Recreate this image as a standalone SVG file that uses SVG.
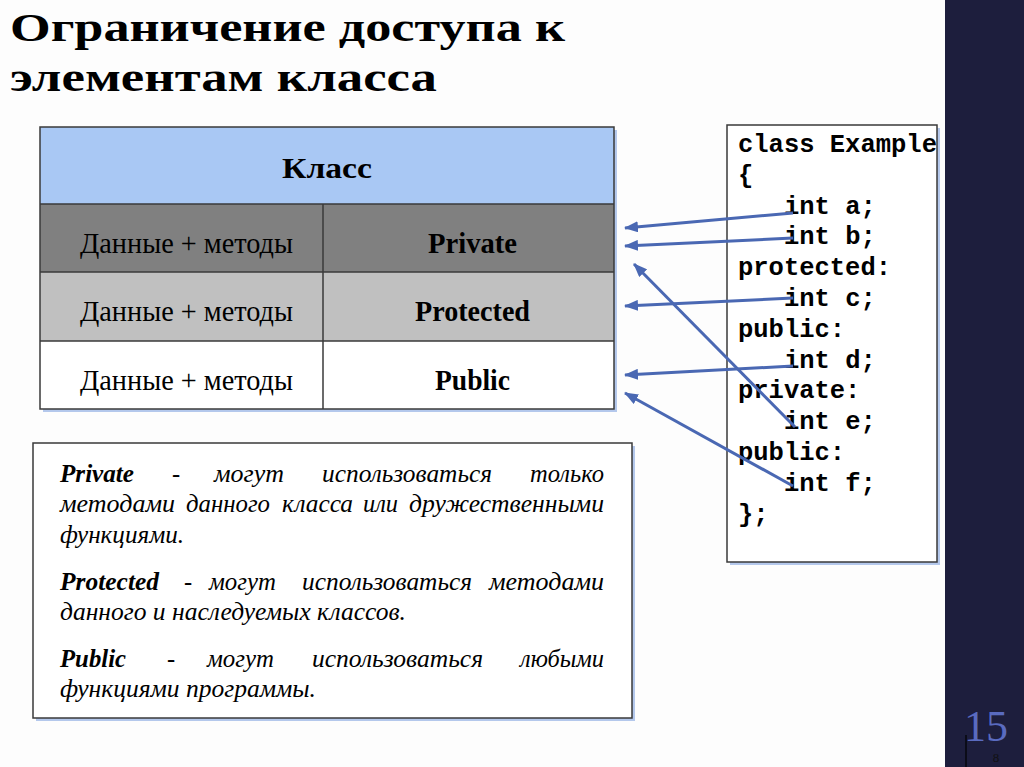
<svg xmlns="http://www.w3.org/2000/svg" width="1024" height="767" viewBox="0 0 1024 767">
<style>
.title{font-family:"Liberation Serif",serif;font-weight:bold;font-size:41px;fill:#000}
.cell{font-family:"Liberation Serif",serif;font-size:29px;fill:#000}
.cellb{font-family:"Liberation Serif",serif;font-size:29px;font-weight:bold;fill:#000}
.code{font-family:"Liberation Mono",monospace;font-weight:bold;font-size:25.5px;fill:#000}
.desc{font-family:"Liberation Serif",serif;font-style:italic;font-size:24.5px;fill:#000}
.descb{font-weight:bold}
.box{stroke:#3a3a3a;stroke-width:1.5}
.shadow{fill:#b4c8ec}
.arrow{stroke:#4a68b3;stroke-width:3;fill:none;marker-end:url(#ah)}
</style>
<defs>
<marker id="ah" markerUnits="userSpaceOnUse" viewBox="0 0 14 11" markerWidth="14" markerHeight="11" refX="13" refY="5.5" orient="auto">
<path d="M0,0 L14,5.5 L0,11 z" fill="#4a68b3"/>
</marker>
</defs>
<rect x="0" y="0" width="1024" height="767" fill="#fdfdfd"/>
<rect x="945" y="0" width="79" height="767" fill="#1d1e3d"/>

<g id="title">
<text class="title" x="10" y="41" textLength="555" lengthAdjust="spacingAndGlyphs">Ограничение доступа к</text>
<text class="title" x="10" y="91" textLength="427" lengthAdjust="spacingAndGlyphs">элементам класса</text>
</g>

<g id="table">
<rect class="shadow" x="43" y="130" width="574" height="282"/>
<rect x="40" y="127" width="574" height="77" fill="#a9c8f4"/>
<rect x="40" y="204" width="574" height="68" fill="#808080"/>
<rect x="40" y="272" width="574" height="69" fill="#c0c0c0"/>
<rect x="40" y="341" width="574" height="68" fill="#ffffff"/>
<rect class="box" x="40" y="127" width="574" height="282" fill="none"/>
<line class="box" x1="40" y1="204" x2="614" y2="204"/>
<line class="box" x1="40" y1="272" x2="614" y2="272"/>
<line class="box" x1="40" y1="341" x2="614" y2="341"/>
<line class="box" x1="323" y1="204" x2="323" y2="409"/>
<text class="cellb" x="282" y="178" font-size="34" textLength="90" lengthAdjust="spacingAndGlyphs">Класс</text>
<text class="cell" x="80" y="253" textLength="213" lengthAdjust="spacingAndGlyphs">Данные + методы</text>
<text class="cellb" x="428" y="253" textLength="89" lengthAdjust="spacingAndGlyphs">Private</text>
<text class="cell" x="80" y="321" textLength="213" lengthAdjust="spacingAndGlyphs">Данные + методы</text>
<text class="cellb" x="415" y="321" textLength="115" lengthAdjust="spacingAndGlyphs">Protected</text>
<text class="cell" x="80" y="390" textLength="213" lengthAdjust="spacingAndGlyphs">Данные + методы</text>
<text class="cellb" x="435" y="390" textLength="75" lengthAdjust="spacingAndGlyphs">Public</text>
</g>

<g id="code">
<rect class="shadow" x="730" y="128" width="210" height="437"/>
<rect class="box" x="727" y="125" width="210" height="437" fill="#ffffff"/>
<text class="code" x="738" y="152">class Example</text>
<text class="code" x="738" y="183">{</text>
<text class="code" x="784" y="214">int a;</text>
<text class="code" x="784" y="244">int b;</text>
<text class="code" x="738" y="275">protected:</text>
<text class="code" x="784" y="306">int c;</text>
<text class="code" x="738" y="337">public:</text>
<text class="code" x="784" y="368">int d;</text>
<text class="code" x="738" y="398">private:</text>
<text class="code" x="784" y="429">int e;</text>
<text class="code" x="738" y="460">public:</text>
<text class="code" x="784" y="491">int f;</text>
<text class="code" x="738" y="522">};</text>
</g>

<g id="description">
<rect class="shadow" x="36" y="446" width="599" height="275"/>
<rect class="box" x="33" y="443" width="599" height="275" fill="#ffffff"/>
<text class="desc descb" x="60" y="482" textLength="74" lengthAdjust="spacingAndGlyphs">Private</text>
<text class="desc" x="172" y="482">-</text>
<text class="desc" x="214" y="482" textLength="70" lengthAdjust="spacingAndGlyphs">могут</text>
<text class="desc" x="322" y="482" textLength="170" lengthAdjust="spacingAndGlyphs">использоваться</text>
<text class="desc" x="530" y="482" textLength="74" lengthAdjust="spacingAndGlyphs">только</text>
<text class="desc" x="60" y="512" textLength="115" lengthAdjust="spacingAndGlyphs">методами</text>
<text class="desc" x="186" y="512" textLength="84" lengthAdjust="spacingAndGlyphs">данного</text>
<text class="desc" x="282" y="512" textLength="71" lengthAdjust="spacingAndGlyphs">класса</text>
<text class="desc" x="363" y="512" textLength="35" lengthAdjust="spacingAndGlyphs">или</text>
<text class="desc" x="409" y="512" textLength="195" lengthAdjust="spacingAndGlyphs">дружественными</text>
<text class="desc" x="60" y="543" textLength="124" lengthAdjust="spacingAndGlyphs">функциями.</text>
<text class="desc descb" x="60" y="590" textLength="99" lengthAdjust="spacingAndGlyphs">Protected</text>
<text class="desc" x="184" y="590">-</text>
<text class="desc" x="209" y="590" textLength="67" lengthAdjust="spacingAndGlyphs">могут</text>
<text class="desc" x="302" y="590" textLength="170" lengthAdjust="spacingAndGlyphs">использоваться</text>
<text class="desc" x="489" y="590" textLength="115" lengthAdjust="spacingAndGlyphs">методами</text>
<text class="desc" x="60" y="620" textLength="346" lengthAdjust="spacingAndGlyphs">данного и наследуемых классов.</text>
<text class="desc descb" x="60" y="667" textLength="66" lengthAdjust="spacingAndGlyphs">Public</text>
<text class="desc" x="167" y="667">-</text>
<text class="desc" x="207" y="667" textLength="67" lengthAdjust="spacingAndGlyphs">могут</text>
<text class="desc" x="312" y="667" textLength="171" lengthAdjust="spacingAndGlyphs">использоваться</text>
<text class="desc" x="520" y="667" textLength="84" lengthAdjust="spacingAndGlyphs">любыми</text>
<text class="desc" x="60" y="697" textLength="256" lengthAdjust="spacingAndGlyphs">функциями программы.</text>
</g>

<g id="connectors">
<line class="arrow" x1="793" y1="213" x2="625" y2="228"/>
<line class="arrow" x1="793" y1="238" x2="625" y2="246"/>
<line class="arrow" x1="795" y1="427" x2="634" y2="264"/>
<line class="arrow" x1="793" y1="298" x2="625" y2="306"/>
<line class="arrow" x1="793" y1="366" x2="625" y2="375"/>
<line class="arrow" x1="793" y1="486" x2="625" y2="393"/>
</g>

<g id="page-number">
<text x="986" y="741" text-anchor="middle" font-family="Liberation Serif, serif" font-size="44" fill="#5a6bc0">15</text>
<line x1="966" y1="735" x2="966" y2="767" stroke="#000" stroke-width="1.2"/>
<text x="996" y="762" text-anchor="middle" font-family="Liberation Serif, serif" font-size="13" fill="#111">8</text>
</g>
</svg>
